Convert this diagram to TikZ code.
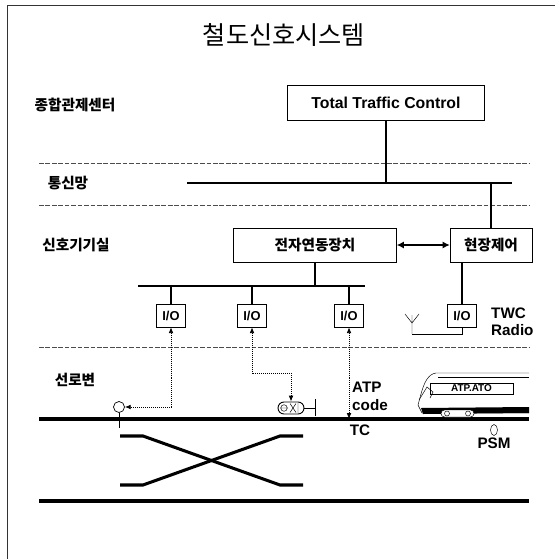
\documentclass[tikz,border=0pt]{standalone}
\usepackage{fontspec}
\setmainfont{Liberation Sans}
\newfontfamily\krfont{Noto Sans CJK KR}
\usetikzlibrary{positioning,calc,arrows.meta,shapes.misc,shapes.geometric}

\begin{document}
\begin{tikzpicture}[x=0.03cm, y=-0.03cm,
    sys block/.style={draw, thin, rectangle, minimum height=1.02cm, inner sep=0pt, font=\krfont\bfseries\fontsize{12.5}{14}\selectfont},
    io block/.style={draw, thin, rectangle, minimum width=0.87cm, minimum height=0.69cm, inner sep=0pt, font=\bfseries\fontsize{11}{12}\selectfont},
    layer label/.style={font=\krfont\bfseries\fontsize{12.5}{14}\selectfont},
    tag/.style={font=\bfseries\fontsize{13}{15}\selectfont, align=left, inner sep=0pt},
    bus line/.style={line width=2.2pt},
    io line/.style={line width=1.5pt},
    rail/.style={line width=2.6pt},
    link/.style={densely dotted, line width=0.7pt, {Latex[length=5pt,width=4pt]}-{Latex[length=5pt,width=4pt]}},
    sep line/.style={black!70, line width=0.6pt, dash pattern=on 4pt off 1.5pt}]

    \useasboundingbox (0,0) rectangle (555,559);
    \draw[thin, black!80] (7,559) -- (7,5) -- (555,5);

    \node[font=\krfont\fontsize{21.5}{24}\selectfont] (title) at (284,35) {철도신호시스템};

    \node[layer label] (lcc) at (75,105) {종합관제센터};
    \node[layer label] (lnet) at (68,183) {통신망};
    \node[layer label] (lroom) at (76,245) {신호기기실};
    \node[layer label] (lside) at (75,380) {선로변};

    \foreach \y in {163,205,347}
        \draw[sep line] (39,\y) -- (529,\y);

    \node[draw, thin, minimum width=5.91cm, minimum height=1.05cm, font=\bfseries\fontsize{13.5}{15}\selectfont] (ttc) at (386,102.5) {Total Traffic Control};

    \coordinate (netL) at (187,183);
    \coordinate (netR) at (512,183);
    \draw[bus line] (netL) -- (netR);
    \draw[bus line] (ttc.south) -- (ttc.south |- netL);

    \node[sys block, minimum width=4.89cm] (ebi) at (315,245) {전자연동장치};
    \node[sys block, minimum width=2.46cm] (ctc) at (491,245) {현장제어};
    \draw[bus line] (ctc.north) -- (ctc.north |- netR);
    \draw[{Latex[length=6pt,width=6pt]}-{Latex[length=6pt,width=6pt]}, line width=1.4pt] (ebi) -- (ctc);

    \coordinate (ioL) at (138,286);
    \coordinate (ioR) at (365,286);
    \draw[io line] (ioL) -- (ioR);
    \draw[io line] (ebi.south) -- (ebi.south |- ioL);

    \foreach \n/\x in {1/171,2/252,3/349,4/462}
        \node[io block] (io\n) at (\x,315.5) {I/O};
    \foreach \n in {1,2,3}
        \draw[io line] (io\n.north) -- (io\n.north |- ioL);
    \draw[io line] (io4.north) -- (io4.north |- ctc.south);

    \node[tag, anchor=west, font=\bfseries\fontsize{13}{14.5}\selectfont] (twc) at (491,321.5) {TWC\\Radio};

    \coordinate (ant) at (412,334);
    \draw[thin] (ant) -- ++(0,-19) (412,323) -- (405,314) (412,323) -- (419,314);
    \draw[thin] (ant) -| (io4.south);

    % track and crossover
    \coordinate (trkL) at (39,419);
    \coordinate (trkR) at (529,419);
    \coordinate (trk2L) at (39,501);
    \coordinate (trk2R) at (529,501);
    \draw[rail] (trkL) -- (trkR);
    \draw[rail] (trk2L) -- (trk2R);
    \draw[rail] (120,436) -- (143,436) -- (280,485) -- (303,485);
    \draw[rail] (120,485) -- (143,485) -- (280,436) -- (303,436);

    \node[circle, draw, semithick, minimum size=0.33cm, inner sep=0pt] (sig) at (119,407) {};
    \draw[semithick] (sig.south) -- ++(0,15);

    \node[draw, thick, rounded rectangle, minimum width=0.78cm, minimum height=0.36cm, inner sep=0pt] (pm) at (291,408) {};
    \draw[thin] (284,408) circle (3.3) (280,408) -- (288,408)
        (290,403.5) -- (296,412.5) (290,412.5) -- (296,403.5) (298,403) -- (298,413);
    \draw[thin] (pm.east) -- ++(11,0) ++(0,-9) -- ++(0,17);

    \draw[link] (io1.south) |- (sig.east);
    \draw[link] (io2.south) -- ++(0,46) -| (pm.north);
    \draw[link] (io3.south) -- (io3.south |- trkL);

    \node[tag, anchor=west, font=\bfseries\fontsize{13}{15.4}\selectfont] (atp) at (352,396) {ATP\\code};
    \node[tag] (tc) at (360,430) {TC};

    % train
    \draw[thin, fill=white] (529,373) -- (436,373) .. controls (428,374) and (424,383) .. (421,394) -- (418,405) -- (422,413) -- (529,413);
    \draw[thin] (438,377) -- (529,377);
    \draw[thin] (419,400) -- (427,387) -- (433,392) -- (430,398);
    \fill (421,408) -- (529,407) -- (529,413) -- (423,414) -- cycle;
    \draw[thin, fill=white, rounded corners=3pt] (441,410) rectangle (474,417);
    \draw[thin] (447,413.5) circle (2.5) (468,413.5) circle (2.5);
    \node[draw, thin, minimum width=2.49cm, minimum height=0.33cm, inner sep=0pt, font=\bfseries\fontsize{8.5}{9}\selectfont] (ato) at (471.5,388.5) {ATP.ATO};

    \node[ellipse, draw, thin, minimum width=0.21cm, minimum height=0.33cm, inner sep=0pt] (psm) at (494,430) {};
    \node[tag, below=2pt of psm] (psmlabel) {PSM};
\end{tikzpicture}
\end{document}
